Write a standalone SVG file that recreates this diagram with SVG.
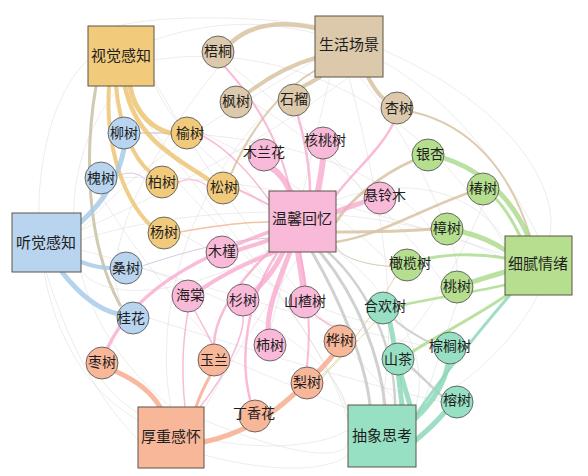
<svg xmlns="http://www.w3.org/2000/svg" width="588" height="476" viewBox="0 0 588 476">
<style>
.e{fill:none;stroke-linecap:round}
.f{stroke:#d6d6d6;stroke-width:0.8;opacity:0.6}
.y{stroke:#ecc26c;opacity:0.8}
.tn{stroke:#d7c3a2;opacity:0.85}
.b{stroke:#a8cbe9;opacity:0.85}
.p{stroke:#f7a8cc;opacity:0.78}
.g{stroke:#a9d98a;opacity:0.8}
.s{stroke:#f5ab8c;opacity:0.82}
.m{stroke:#8cd8ba;opacity:0.85}
.gr{stroke:#c6c6c6;opacity:0.8}
.hub{stroke:#5d5447;stroke-width:1}
.n{stroke:#4a4a4a;stroke-width:0.8}
text{font-family:"Noto Sans CJK SC","Noto Sans CJK TC",sans-serif;fill:#1e1e1e;text-anchor:middle;dominant-baseline:central}
.tl{font-size:15px}
.tc{font-size:14px}
.cy{fill:#f2ca7c}.ct{fill:#dcc8aa}.cb{fill:#b8d4ee}.cp{fill:#f9b9d8}.cg{fill:#b5de8e}.cs{fill:#f9b79a}.cm{fill:#98e0c4}
</style>
<g id="connectors">
<g id="faint">
<path class="e f" d="M121,86 C60,150 40,300 171,407"/>
<path class="e f" d="M88,60 C20,120 10,350 138,420"/>
<path class="e f" d="M154,40 C300,-10 450,60 538,236"/>
<path class="e f" d="M154,60 C280,40 420,100 505,245"/>
<path class="e f" d="M349,77 C380,200 400,300 382,405"/>
<path class="e f" d="M383,50 C500,100 560,180 550,236"/>
<path class="e f" d="M315,70 C200,150 150,300 171,407"/>
<path class="e f" d="M81,240 C200,200 400,200 505,260"/>
<path class="e f" d="M81,250 C200,280 350,350 348,420"/>
<path class="e f" d="M46,272 C80,380 120,420 138,440"/>
<path class="e f" d="M204,420 C300,460 350,460 348,440"/>
<path class="e f" d="M204,455 C280,475 330,470 348,455"/>
<path class="e f" d="M121,86 C200,200 300,300 348,410"/>
<path class="e f" d="M81,230 C150,150 250,100 315,60"/>
<path class="e f" d="M416,410 C480,380 520,330 538,295"/>
<path class="e f" d="M336,200 C420,170 480,200 505,240"/>
<path class="e f" d="M269,210 C200,150 160,110 154,80"/>
<path class="e f" d="M269,250 C180,300 100,300 81,270"/>
<path class="e f" d="M302,252 C250,330 220,380 204,410"/>
<path class="e f" d="M336,250 C400,300 430,360 416,405"/>
<path class="e f" d="M349,77 C250,150 150,200 81,230"/>
<path class="e f" d="M154,80 C250,250 350,350 400,405"/>
<path class="e f" d="M102,380 C150,450 300,460 348,430"/>
<path class="e f" d="M218,68 C150,150 100,250 120,300"/>
<path class="e f" d="M457,303 C440,350 430,390 416,420"/>
<path class="e f" d="M483,205 C460,260 420,330 400,342"/>
<path class="e f" d="M360,77 C420,150 460,250 457,271"/>
<path class="e f" d="M330,77 C300,200 280,300 270,329"/>
<path class="e f" d="M140,133 C250,130 380,160 431,229"/>
<path class="e f" d="M117,178 C250,170 400,220 505,255"/>
<path class="e f" d="M142,268 C250,300 350,330 434,348"/>
<path class="e f" d="M149,318 C250,350 350,380 441,402"/>
<path class="e f" d="M88,40 C100,20 200,10 315,25"/>
<path class="e f" d="M230,360 C300,390 380,420 416,440"/>
<path class="e f" d="M178,182 C250,260 320,330 348,420"/>
<path class="e f" d="M252,102 C330,150 400,220 441,280"/>
<path class="e f" d="M234,68 C300,120 360,180 367,200"/>
<path class="e f" d="M180,233 C260,280 330,320 383,324"/>
<path class="e f" d="M203,133 C300,180 380,250 391,265"/>
<path class="e f" d="M100,194 C140,260 200,330 214,344"/>
</g>
<g id="thin">
<path class="e" stroke="#c9c1da" stroke-width="1" d="M140,133 L171,133"/>
<path class="e" stroke="#d4cbe3" stroke-width="1" d="M117,176 Q135,168 146,180"/>
<path class="e p" stroke-width="1.2" d="M178,182 Q195,176 207,186"/>
<path class="e" stroke="#f4c0a6" stroke-width="1.5" d="M180,232 C220,225 250,222 269,222"/>
<path class="e" stroke="#d9c8e2" stroke-width="1" d="M142,266 C190,250 230,240 269,238"/>
<path class="e p" stroke-width="1.5" d="M195,311 C205,330 210,338 212,344"/>
<path class="e p" stroke-width="1.5" d="M315,315 C325,322 330,326 333,326"/>
<path class="e" stroke="#dcdca2" stroke-width="1" d="M375,322 C350,350 330,368 322,378"/>
<path class="e" stroke="#dcdca2" stroke-width="1" d="M395,277 C370,320 340,360 321,376"/>
<path class="e" stroke="#d8cbb2" stroke-width="1" d="M423,266 C380,270 340,260 336,246"/>
<path class="e p" stroke-width="1.5" d="M203,136 C230,150 255,180 269,200"/>
<path class="e p" stroke-width="1.5" d="M185,407 C180,360 185,330 188,311"/>
<path class="e p" stroke-width="1.5" d="M200,407 C230,370 245,330 243,316"/>
</g>
<g id="main">
<path class="e" stroke="#cfcab0" stroke-width="3" d="M96,86 C85,150 85,240 120,305"/>
<path class="e y" stroke-width="5" d="M130,86 C135,115 155,130 171,133"/>
<path class="e y" stroke-width="4.5" d="M125,86 C135,140 180,160 209,180"/>
<path class="e y" stroke-width="4" d="M116,86 C120,130 135,160 150,172"/>
<path class="e y" stroke-width="4" d="M109,86 C105,150 125,200 150,225"/>
<path class="e tn" stroke-width="4.5" d="M315,28 C280,20 250,25 232,42"/>
<path class="e tn" stroke-width="4" d="M315,58 C290,65 265,80 249,92"/>
<path class="e tn" stroke-width="4" d="M320,77 C312,82 306,85 302,87"/>
<path class="e tn" stroke-width="4" d="M368,77 C375,90 382,98 386,100"/>
<path class="e tn" stroke-width="2" d="M413,112 C470,125 510,170 530,236"/>
<path class="e tn" stroke-width="2" d="M316,70 C280,90 250,130 231,174"/>
<path class="e tn" stroke-width="3" d="M414,160 C380,175 350,200 336,222"/>
<path class="e tn" stroke-width="3" d="M431,229 C400,232 360,232 336,232"/>
<path class="e tn" stroke-width="2.5" d="M468,193 C420,210 380,235 336,242"/>
<path class="e p" stroke-width="2" d="M225,67 C255,100 280,140 290,191"/>
<path class="e p" stroke-width="2.5" d="M298,116 C305,140 310,170 310,191"/>
<path class="e p" stroke-width="2.5" d="M393,124 C380,150 355,170 336,195"/>
<path class="e p" stroke-width="2" d="M239,190 C250,195 260,200 269,205"/>
<path class="e p" stroke-width="3.5" d="M269,232 C220,250 140,280 108,347"/>
<path class="e p" stroke-width="2.5" d="M278,252 C245,300 240,360 250,399"/>
<path class="e p" stroke-width="2.5" d="M271,250 C230,290 215,320 214,344"/>
<path class="e p" stroke-width="2" d="M300,252 C310,300 310,340 307,366"/>
<path class="e p" stroke-width="6" d="M290,191 C285,180 278,172 272,168"/>
<path class="e p" stroke-width="6" d="M318,191 C320,180 322,170 323,159"/>
<path class="e p" stroke-width="5" d="M336,212 C345,208 355,205 364,202"/>
<path class="e p" stroke-width="4" d="M269,240 C255,245 245,248 238,250"/>
<path class="e p" stroke-width="4" d="M275,252 C240,265 215,280 203,288"/>
<path class="e p" stroke-width="5" d="M283,252 C275,270 265,280 256,290"/>
<path class="e p" stroke-width="5" d="M290,252 C275,290 268,310 268,329"/>
<path class="e p" stroke-width="6" d="M298,252 C300,265 302,275 303,286"/>
<path class="e g" stroke-width="5" d="M528,236 C510,195 480,170 444,158"/>
<path class="e g" stroke-width="3" d="M520,236 C512,220 505,208 496,199"/>
<path class="e g" stroke-width="5" d="M505,250 C490,240 475,235 463,232"/>
<path class="e g" stroke-width="3" d="M505,258 C470,252 440,255 422,260"/>
<path class="e g" stroke-width="5" d="M505,272 C490,276 480,280 472,282"/>
<path class="e g" stroke-width="2.5" d="M505,285 C460,295 420,300 399,306"/>
<path class="e g" stroke-width="3" d="M507,295 C470,320 430,340 412,352"/>
<path class="e m" stroke-width="3" d="M510,295 C480,330 440,380 416,415"/>
<path class="e gr" stroke-width="3" d="M312,252 C340,300 365,360 370,405"/>
<path class="e gr" stroke-width="3" d="M320,252 C360,300 380,360 385,405"/>
<path class="e gr" stroke-width="2.5" d="M328,252 C370,290 395,350 395,405"/>
<path class="e gr" stroke-width="2.5" d="M412,368 C425,380 435,390 442,396"/>
<path class="e gr" stroke-width="2" d="M434,345 C415,335 400,325 395,320"/>
<path class="e m" stroke-width="5" d="M402,405 C398,370 394,340 390,323"/>
<path class="e m" stroke-width="5" d="M410,405 C406,392 403,382 401,374"/>
<path class="e m" stroke-width="5" d="M416,418 C435,400 445,380 448,364"/>
<path class="e m" stroke-width="5" d="M416,440 C428,430 438,420 444,413"/>
<path class="e s" stroke-width="5" d="M160,407 C150,390 135,380 117,372"/>
<path class="e s" stroke-width="5" d="M204,442 Q250,432 285,402 T333,355"/>
<path class="e s" stroke-width="3" d="M196,407 C200,395 205,385 210,376"/>
<path class="e b" stroke-width="5" d="M81,222 C100,205 118,180 124,149"/>
<path class="e b" stroke-width="4" d="M81,262 C92,266 100,268 110,268"/>
<path class="e b" stroke-width="5" d="M62,272 C80,295 100,310 118,314"/>
</g>
</g>
<g id="hub-shijue"><rect class="hub cy" x="88" y="26" width="66" height="60"/><text class="tl" x="121" y="54">视觉感知</text></g>
<g id="hub-shenghuo"><rect class="hub ct" x="315" y="16" width="68" height="61"/><text class="tl" x="349" y="43">生活场景</text></g>
<g id="hub-tingjue"><rect class="hub cb" x="12" y="213" width="69" height="59"/><text class="tl" x="46" y="241">听觉感知</text></g>
<g id="hub-wenxin"><rect class="hub cp" x="269" y="191" width="67" height="61"/><text class="tl" x="302" y="217">温馨回忆</text></g>
<g id="hub-xini"><rect class="hub cg" x="505" y="236" width="67" height="59"/><text class="tl" x="538" y="262">细腻情绪</text></g>
<g id="hub-houzhong"><rect class="hub cs" x="138" y="407" width="66" height="61"/><text class="tl" x="171" y="435">厚重感怀</text></g>
<g id="hub-chouxiang"><rect class="hub cm" x="348" y="405" width="68" height="62"/><text class="tl" x="382" y="434">抽象思考</text></g>
<g id="n-liushu"><circle class="n cb" cx="124" cy="133" r="16"/><text class="tc" x="124" y="132">柳树</text></g>
<g id="n-yushu"><circle class="n cy" cx="187" cy="133" r="16"/><text class="tc" x="190" y="132">榆树</text></g>
<g id="n-wutong"><circle class="n ct" cx="218" cy="52" r="16"/><text class="tc" x="218" y="50">梧桐</text></g>
<g id="n-fengshu"><circle class="n ct" cx="236" cy="102" r="16"/><text class="tc" x="236" y="100">枫树</text></g>
<g id="n-shiliu"><circle class="n ct" cx="294" cy="100" r="16"/><text class="tc" x="294" y="98">石榴</text></g>
<g id="n-hetaoshu"><circle class="n cp" cx="323" cy="143" r="16"/><text class="tc" x="325" y="139">核桃树</text></g>
<g id="n-xingshu"><circle class="n ct" cx="397" cy="108" r="16"/><text class="tc" x="399" y="107">杏树</text></g>
<g id="n-mulanhua"><circle class="n cp" cx="264" cy="155" r="16"/><text class="tc" x="264" y="151">木兰花</text></g>
<g id="n-yinxing"><circle class="n cg" cx="428" cy="155" r="16"/><text class="tc" x="430" y="153">银杏</text></g>
<g id="n-huaishu"><circle class="n cb" cx="101" cy="178" r="16"/><text class="tc" x="101" y="177">槐树</text></g>
<g id="n-baishu"><circle class="n cy" cx="162" cy="182" r="16"/><text class="tc" x="162" y="181">柏树</text></g>
<g id="n-songshu"><circle class="n cy" cx="223" cy="188" r="16"/><text class="tc" x="224" y="186">松树</text></g>
<g id="n-xuanlingmu"><circle class="n cp" cx="380" cy="198" r="16"/><text class="tc" x="385" y="194">悬铃木</text></g>
<g id="n-chunshu"><circle class="n cg" cx="483" cy="189" r="16"/><text class="tc" x="483" y="187">椿树</text></g>
<g id="n-yangshu"><circle class="n cy" cx="164" cy="233" r="16"/><text class="tc" x="164" y="231">杨树</text></g>
<g id="n-mujin"><circle class="n cp" cx="222" cy="252" r="16"/><text class="tc" x="222" y="250">木槿</text></g>
<g id="n-zhangshu"><circle class="n cg" cx="447" cy="229" r="16"/><text class="tc" x="447" y="227">樟树</text></g>
<g id="n-sangshu"><circle class="n cb" cx="126" cy="268" r="16"/><text class="tc" x="126" y="267">桑树</text></g>
<g id="n-ganlanshu"><circle class="n cg" cx="407" cy="265" r="16"/><text class="tc" x="410" y="262">橄榄树</text></g>
<g id="n-taoshu"><circle class="n cg" cx="457" cy="287" r="16"/><text class="tc" x="457" y="285">桃树</text></g>
<g id="n-haitang"><circle class="n cp" cx="188" cy="296" r="16"/><text class="tc" x="190" y="294">海棠</text></g>
<g id="n-shanshu"><circle class="n cp" cx="243" cy="300" r="16"/><text class="tc" x="243" y="299">杉树</text></g>
<g id="n-shanzhashu"><circle class="n cp" cx="305" cy="302" r="16"/><text class="tc" x="305" y="300">山楂树</text></g>
<g id="n-hehuanshu"><circle class="n cm" cx="383" cy="308" r="16"/><text class="tc" x="385" y="305">合欢树</text></g>
<g id="n-guihua"><circle class="n cb" cx="133" cy="318" r="16"/><text class="tc" x="131" y="317">桂花</text></g>
<g id="n-zaoshu"><circle class="n cs" cx="102" cy="363" r="16"/><text class="tc" x="102" y="361">枣树</text></g>
<g id="n-yulan"><circle class="n cs" cx="214" cy="360" r="16"/><text class="tc" x="214" y="359">玉兰</text></g>
<g id="n-shishu"><circle class="n cp" cx="270" cy="345" r="16"/><text class="tc" x="270" y="344">柿树</text></g>
<g id="n-huashu"><circle class="n cs" cx="340" cy="341" r="16"/><text class="tc" x="340" y="339">桦树</text></g>
<g id="n-lishu"><circle class="n cs" cx="307" cy="383" r="16"/><text class="tc" x="307" y="381">梨树</text></g>
<g id="n-dingxianghua"><circle class="n cs" cx="255" cy="416" r="16"/><text class="tc" x="254" y="412">丁香花</text></g>
<g id="n-shancha"><circle class="n cm" cx="398" cy="359" r="16"/><text class="tc" x="398" y="358">山茶</text></g>
<g id="n-zonglvshu"><circle class="n cm" cx="450" cy="348" r="16"/><text class="tc" x="450" y="345">棕榈树</text></g>
<g id="n-rongshu"><circle class="n cm" cx="457" cy="402" r="16"/><text class="tc" x="457" y="399">榕树</text></g>
</svg>
